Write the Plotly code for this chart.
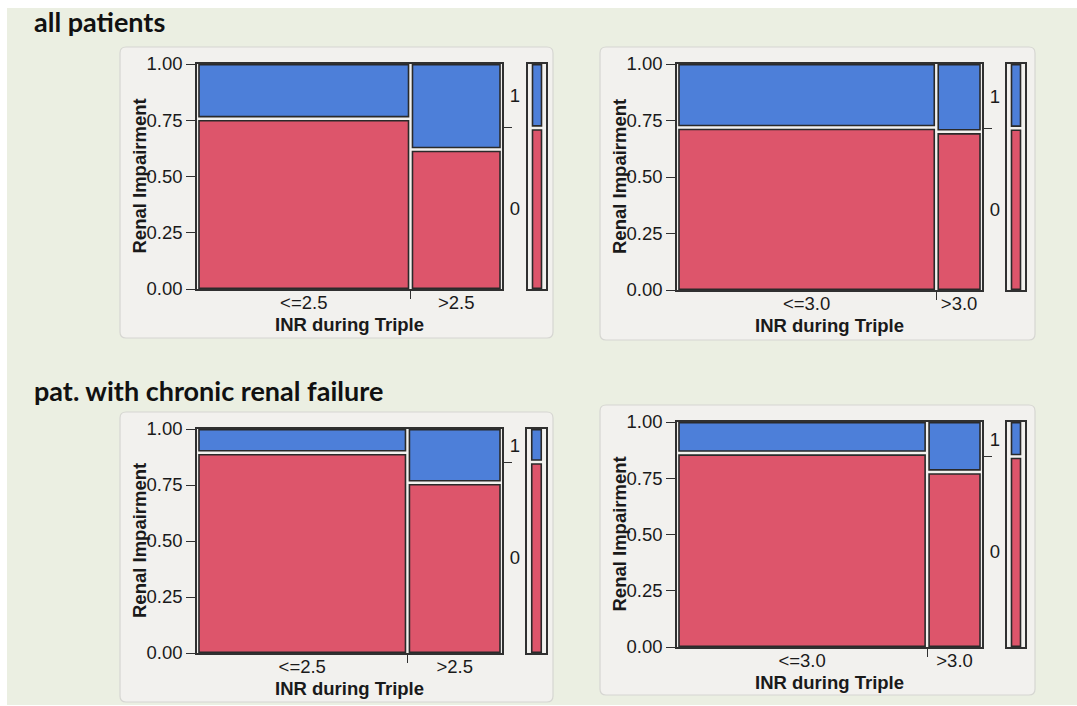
import plotly.graph_objects as go

W, H = 1077, 706

# ---- data: mosaic shares per panel ----
section_titles = ["all patients", "pat. with chronic renal failure"]
inr_cats_25 = ["<=2.5", ">2.5"]
inr_cats_30 = ["<=3.0", ">3.0"]
impair_levels = ["0", "1"]

# column widths = share of patients in each INR group
all_25_width = [0.70, 0.30]
all_30_width = [0.85, 0.15]
crf_25_width = [0.69, 0.31]
crf_30_width = [0.82, 0.18]

# share of Renal Impairment = 0 within each INR group
all_25_level0 = [0.757, 0.620]
all_30_level0 = [0.719, 0.700]
crf_25_level0 = [0.894, 0.760]
crf_30_level0 = [0.862, 0.778]

panels = [
    dict(cats=inr_cats_25, width=all_25_width, level0=all_25_level0,
         main=(197, 64, 502, 289), marg=(528, 546), box=(120, 47, 553, 338)),
    dict(cats=inr_cats_30, width=all_30_width, level0=all_30_level0,
         main=(677, 64, 982, 290), marg=(1007, 1025), box=(600, 47, 1035, 340)),
    dict(cats=inr_cats_25, width=crf_25_width, level0=crf_25_level0,
         main=(197, 429, 502, 653), marg=(527, 546), box=(120, 412, 553, 702)),
    dict(cats=inr_cats_30, width=crf_30_width, level0=crf_30_level0,
         main=(677, 422, 982, 647), marg=(1007, 1025), box=(600, 405, 1035, 695)),
]

BLUE = "#4D7FD9"
RED = "#DD556B"
EDGE = "#2A2A2A"
AXIS = "#303030"
TXT = "#1A1A1A"
FONT = "Liberation Sans"
GAP_X = 0.013
GAP_Y = 0.018
EDGE_Y = 0.003


def px_x(x):
    return x / W


def px_y(y):
    return 1 - y / H


def rounded_rect(x0, y0, x1, y1, r=6):
    rx, ry = r / W, r / H
    X0, X1 = px_x(x0), px_x(x1)
    Y0, Y1 = px_y(y1), px_y(y0)
    return (f"M{X0+rx},{Y1} L{X1-rx},{Y1} Q{X1},{Y1} {X1},{Y1-ry} "
            f"L{X1},{Y0+ry} Q{X1},{Y0} {X1-rx},{Y0} L{X0+rx},{Y0} "
            f"Q{X0},{Y0} {X0},{Y0+ry} L{X0},{Y1-ry} Q{X0},{Y1} {X0+rx},{Y1} Z")


def aid(prefix, n):
    return prefix if n == 1 else f"{prefix}{n}"


fig = go.Figure()
layout = {}
shapes = [
    dict(type="rect", xref="paper", yref="paper", x0=px_x(7), x1=1.0,
         y0=px_y(705), y1=px_y(8), fillcolor="#EBEFE2", line=dict(width=0),
         layer="below"),
]
annotations = []

tick_font = dict(family=FONT, size=18.5, color=TXT)
title_font = dict(family=FONT, size=18.5, color=TXT, weight="bold")
head_font = dict(family="Lato", size=27, color="#111111", weight="bold")
common = dict(automargin=False, showgrid=False, zeroline=False)

xn = 0
yn = 0
for p in panels:
    x0, y0, x1, y1 = p["main"]
    mx0, mx1 = p["marg"]
    bx = p["box"]
    shapes.append(dict(type="path", xref="paper", yref="paper",
                       path=rounded_rect(*bx), fillcolor="#F2F1EE",
                       line=dict(color="#D6D6D2", width=1.2), layer="below"))

    xm, xl, xg = xn + 1, xn + 2, xn + 3
    ym, yt, yl, yg = yn + 1, yn + 2, yn + 3, yn + 4
    xn += 3
    yn += 4
    dom_x = [px_x(x0), px_x(x1)]
    dom_y = [px_y(y1), px_y(y0)]

    widths = p["width"]
    lefts = [sum(widths[:i]) for i in range(len(widths))]
    centers = [l + w / 2 for l, w in zip(lefts, widths)]
    bar_w = [w - GAP_X for w in widths]
    lv0 = p["level0"]

    # level 0 (bottom) and level 1 (top) tiles
    fig.add_trace(go.Bar(
        x=centers, y=[v - GAP_Y / 2 - EDGE_Y for v in lv0], base=[EDGE_Y] * len(lv0),
        width=bar_w, marker=dict(color=RED, line=dict(color=EDGE, width=1.6)),
        name=impair_levels[0], showlegend=False, hoverinfo="skip",
        xaxis=aid("x", xm), yaxis=aid("y", ym)))
    fig.add_trace(go.Bar(
        x=centers, y=[1 - EDGE_Y - (v + GAP_Y / 2) for v in lv0],
        base=[v + GAP_Y / 2 for v in lv0],
        width=bar_w, marker=dict(color=BLUE, line=dict(color=EDGE, width=1.6)),
        name=impair_levels[1], showlegend=False, hoverinfo="skip",
        xaxis=aid("x", xm), yaxis=aid("y", ym)))

    # marginal bar: overall share of each level
    overall0 = sum(w * v for w, v in zip(widths, lv0))
    fig.add_trace(go.Bar(
        x=[0.5], y=[overall0 - GAP_Y / 2 - EDGE_Y], base=[EDGE_Y], width=[0.5],
        marker=dict(color=RED, line=dict(color=EDGE, width=1.6)),
        showlegend=False, hoverinfo="skip",
        xaxis=aid("x", xg), yaxis=aid("y", yg)))
    fig.add_trace(go.Bar(
        x=[0.5], y=[1 - EDGE_Y - (overall0 + GAP_Y / 2)], base=[overall0 + GAP_Y / 2],
        width=[0.5], marker=dict(color=BLUE, line=dict(color=EDGE, width=1.6)),
        showlegend=False, hoverinfo="skip",
        xaxis=aid("x", xg), yaxis=aid("y", yg)))

    # empty traces so overlay axes are rendered
    for xa, ya in [(xl, ym), (xm, yt), (xm, yl)]:
        fig.add_trace(go.Scatter(x=[None], y=[None], showlegend=False,
                                 hoverinfo="skip", xaxis=aid("x", xa), yaxis=aid("y", ya)))

    # main x axis: frame + tick at the column boundary
    layout[f"xaxis{xm}"] = dict(
        domain=dom_x, range=[0, 1], anchor=aid("y", ym), showline=True, mirror=True,
        linecolor=AXIS, linewidth=1.6,
        tickmode="array", tickvals=lefts[1:], ticktext=[""] * (len(lefts) - 1),
        ticks="outside", ticklen=8, tickcolor=AXIS, tickwidth=1.2, **common)
    # category labels at column centres
    layout[f"xaxis{xl}"] = dict(
        domain=dom_x, range=[0, 1], anchor=aid("y", ym), overlaying=aid("x", xm),
        side="bottom", showline=False,
        tickmode="array", tickvals=centers, ticktext=p["cats"],
        ticks="", tickfont=tick_font, **common)
    # left y axis with proportion ticks
    layout[f"yaxis{ym}"] = dict(
        domain=dom_y, range=[0, 1], anchor=aid("x", xm), showline=True, mirror=True,
        linecolor=AXIS, linewidth=1.6,
        tickmode="array", tickvals=[0, 0.25, 0.5, 0.75, 1.0], tickformat=".2f",
        ticks="outside", ticklen=9, tickcolor=AXIS, tickwidth=1.2, tickfont=tick_font,
        **common)
    # right y axis: tick at overall split
    layout[f"yaxis{yt}"] = dict(
        domain=dom_y, range=[0, 1], anchor=aid("x", xm), overlaying=aid("y", ym),
        side="right", showline=False,
        tickmode="array", tickvals=[overall0], ticktext=[""],
        ticks="outside", ticklen=9, tickcolor=AXIS, tickwidth=1.2, **common)
    # right y axis: level names centred on marginal segments
    layout[f"yaxis{yl}"] = dict(
        domain=dom_y, range=[0, 1], anchor=aid("x", xm), overlaying=aid("y", ym),
        side="right", showline=False,
        tickmode="array", tickvals=[(1 + overall0) / 2, overall0 / 2],
        ticktext=[impair_levels[1], impair_levels[0]],
        ticks="outside", ticklen=3, tickcolor="rgba(0,0,0,0)", tickfont=tick_font,
        **common)
    # marginal bar axes
    layout[f"xaxis{xg}"] = dict(
        domain=[px_x(mx0), px_x(mx1)], range=[0, 1], anchor=aid("y", yg),
        showline=True, mirror=True, linecolor=AXIS, linewidth=1.6,
        showticklabels=False, ticks="", **common)
    layout[f"yaxis{yg}"] = dict(
        domain=dom_y, range=[0, 1], anchor=aid("x", xg),
        showline=True, mirror=True, linecolor=AXIS, linewidth=1.6,
        showticklabels=False, ticks="", **common)

    # axis titles
    annotations.append(dict(
        text="INR during Triple", xref=f"{aid('x', xm)} domain", yref=f"{aid('y', ym)} domain",
        x=0.5, y=0, yshift=-35, xanchor="center", yanchor="middle",
        showarrow=False, font=title_font))
    annotations.append(dict(
        text="Renal Impairment", xref=f"{aid('x', xm)} domain", yref=f"{aid('y', ym)} domain",
        x=0, y=0.5, xshift=-58, xanchor="center", yanchor="middle", textangle=-90,
        showarrow=False, font=title_font))

# section headings
annotations.append(dict(text=section_titles[0], xref="paper", yref="paper",
                        x=px_x(32), y=px_y(21), xanchor="left", yanchor="middle",
                        showarrow=False, font=head_font))
annotations.append(dict(text=section_titles[1], xref="paper", yref="paper",
                        x=px_x(32), y=px_y(391), xanchor="left", yanchor="middle",
                        showarrow=False, font=head_font))

fig.update_layout(
    width=W, height=H, margin=dict(l=0, r=0, t=0, b=0, pad=0),
    paper_bgcolor="white", plot_bgcolor="white",
    barmode="overlay", showlegend=False,
    shapes=shapes, annotations=annotations, **layout)

fig.write_html("out.html")
